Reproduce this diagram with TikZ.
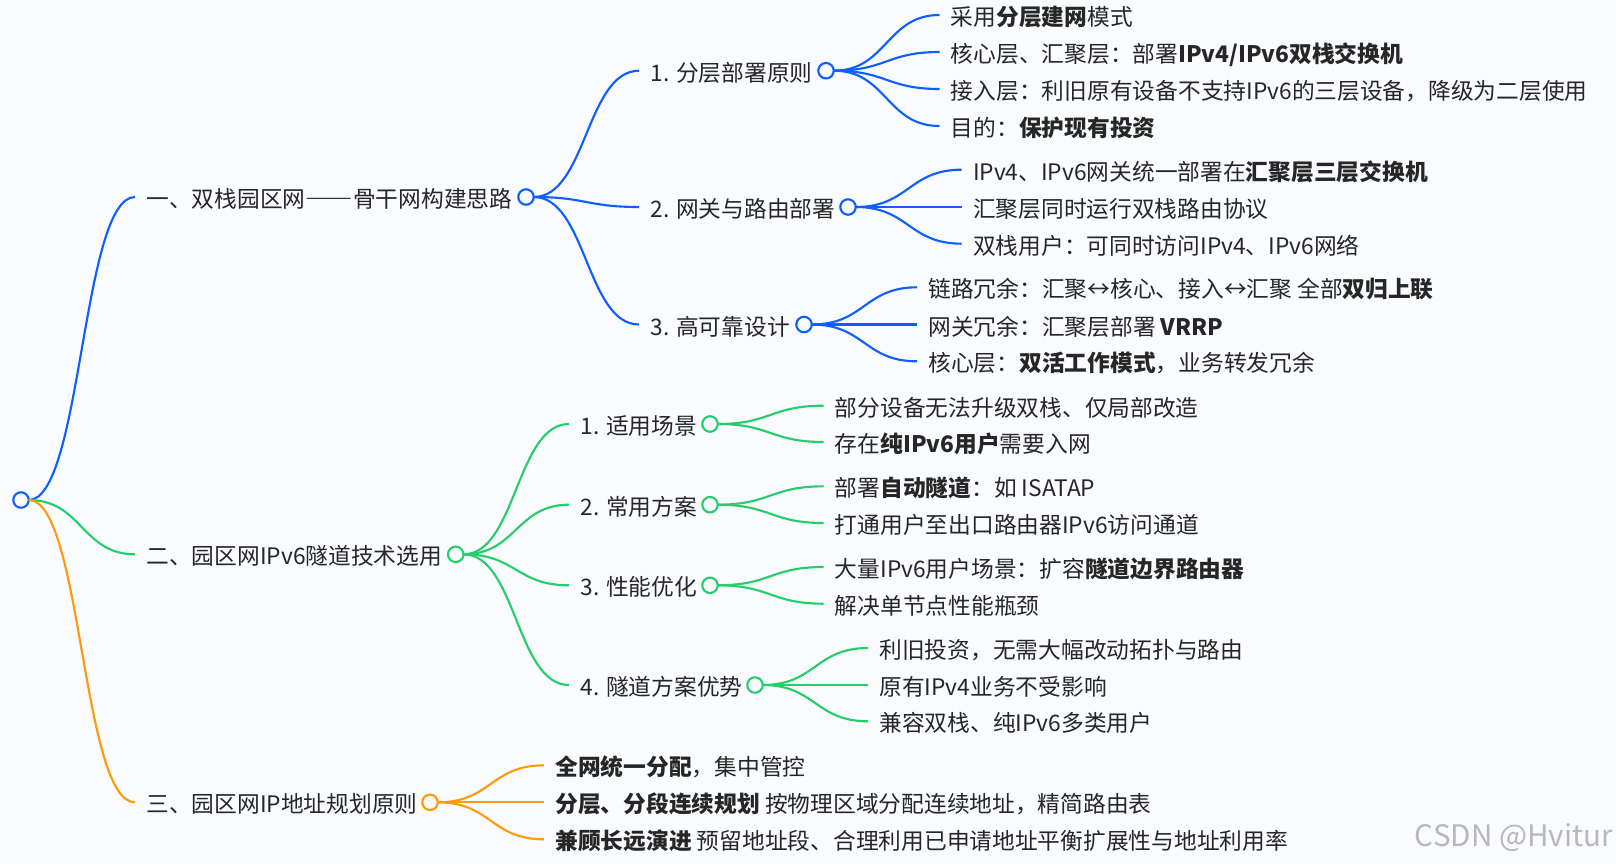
\documentclass[tikz,border=0pt]{standalone}
\usepackage{fontspec}
\setmainfont{Noto Sans CJK SC}
\usepackage{graphicx}
\usepackage{tikz}
\usetikzlibrary{calc}

\definecolor{bgcol}{HTML}{F9FBFE}
\definecolor{txtcol}{HTML}{262626}
\definecolor{bluecol}{HTML}{0F5FFF}
\definecolor{greencol}{HTML}{25CD6B}
\definecolor{orangecol}{HTML}{FF9A0A}

\newcommand{\mlink}[3]{\draw[#1,line width=1.6pt] (#2.east) .. controls ($(#2.east)!.5!(#2.east -| #3.west)$) and ($(#3.west)!.5!(#3.west -| #2.east)$) .. (#3.west);}

\begin{document}
\begin{tikzpicture}[x=.75pt,y=-.75pt,
    item/.style={anchor=west,inner xsep=8.6pt,inner ysep=0pt,outer sep=0pt,text height=16.3pt,text depth=.5pt,font=\fontsize{17.05}{20}\selectfont,text=txtcol},
    ring/.style={circle,draw,fill=bgcol,line width=1.6pt,minimum size=11.6pt,inner sep=0pt,outer sep=0pt}]

  \fill[bgcol] (0,0) rectangle (1616,864);
  \useasboundingbox (0,0) rectangle (1616,864);

  % level one
  \node[ring,draw=bluecol] (root) at (21,500) {};
  \node[item] (a) at (135,197) {一、双栈园区网\scalebox{1.045}[1]{\bfseries\addfontfeature{RawFeature=+fwid}——}骨干网构建思路};
  \node[item] (b) at (135,554.3) {二、园区网IPv6隧道技术选用};
  \node[item] (c) at (135,802.3) {三、园区网IP地址规划原则};
  \node[ring,draw=bluecol] (ar) at (526,197) {};
  \node[ring,draw=greencol] (br) at (455.7,554.3) {};
  \node[ring,draw=orangecol] (cr) at (430,802.3) {};

  % blue part
  \node[item] (a1) at (639,70.7) {1. 分层部署原则};
  \node[item] (a2) at (639,207) {2. 网关与路由部署};
  \node[item] (a3) at (639,324.5) {3. 高可靠设计};
  \node[ring,draw=bluecol] (a1r) at (826,70.7) {};
  \node[ring,draw=bluecol] (a2r) at (848,207) {};
  \node[ring,draw=bluecol] (a3r) at (804,324.5) {};

  \node[item] (a11) at (939.5,15) {采用\textbf{分层建网}模式};
  \node[item] (a12) at (939.5,52) {核心层、汇聚层：部署\textbf{IPv4/IPv6双栈交换机}};
  \node[item] (a13) at (939.5,89) {接入层：利旧原有设备不支持IPv6的三层设备，降级为二层使用};
  \node[item] (a14) at (939.5,126) {目的：\textbf{保护现有投资}};

  \node[item] (a21) at (961.6,169.7) {IPv4、IPv6网关统一部署在\textbf{汇聚层三层交换机}};
  \node[item] (a22) at (961.6,207) {汇聚层同时运行双栈路由协议};
  \node[item] (a23) at (961.6,243.7) {双栈用户：可同时访问IPv4、IPv6网络};

  \node[item] (a31) at (917,287.3) {链路冗余：汇聚↔核心、接入↔汇聚 全部\textbf{双归上联}};
  \node[item] (a32) at (917,324.5) {网关冗余：汇聚层部署 \textbf{VRRP}};
  \node[item] (a33) at (917,361.3) {核心层：\textbf{双活工作模式}，业务转发冗余};

  % green part
  \node[item] (b1) at (569,424) {1. 适用场景};
  \node[item] (b2) at (569,504.7) {2. 常用方案};
  \node[item] (b3) at (569,585.3) {3. 性能优化};
  \node[item] (b4) at (569,685) {4. 隧道方案优势};
  \node[ring,draw=greencol] (b1r) at (710,424) {};
  \node[ring,draw=greencol] (b2r) at (710,504.7) {};
  \node[ring,draw=greencol] (b3r) at (710,585.3) {};
  \node[ring,draw=greencol] (b4r) at (755,685) {};

  \node[item] (b11) at (823.5,405.7) {部分设备无法升级双栈、仅局部改造};
  \node[item] (b12) at (823.5,442) {存在\textbf{纯IPv6用户}需要入网};
  \node[item] (b21) at (823.5,486.3) {部署\textbf{自动隧道}：如 ISATAP};
  \node[item] (b22) at (823.5,523) {打通用户至出口路由器IPv6访问通道};
  \node[item] (b31) at (823.5,567) {大量IPv6用户场景：扩容\textbf{隧道边界路由器}};
  \node[item] (b32) at (823.5,603.7) {解决单节点性能瓶颈};
  \node[item] (b41) at (868,648) {利旧投资，无需大幅改动拓扑与路由};
  \node[item] (b42) at (868,685) {原有IPv4业务不受影响};
  \node[item] (b43) at (868,721.3) {兼容双栈、纯IPv6多类用户};

  % orange part
  \node[item] (c1) at (544,765.3) {\textbf{全网统一分配}，集中管控};
  \node[item] (c2) at (544,802.3) {\textbf{分层、分段连续规划} 按物理区域分配连续地址，精简路由表};
  \node[item] (c3) at (544,839.3) {\textbf{兼顾长远演进} 预留地址段、合理利用已申请地址平衡扩展性与地址利用率};

  \node[anchor=east,inner sep=0pt,font=\fontsize{22.2}{24}\selectfont,text=black!28] (mark) at (1613,838) {CSDN @Hvitur};

  % links
  \mlink{bluecol}{root}{a}
  \mlink{greencol}{root}{b}
  \mlink{orangecol}{root}{c}
  \foreach \n in {a1,a2,a3} {\mlink{bluecol}{ar}{\n}}
  \foreach \n in {a11,a12,a13,a14} {\mlink{bluecol}{a1r}{\n}}
  \foreach \n in {a21,a22,a23} {\mlink{bluecol}{a2r}{\n}}
  \foreach \n in {a31,a32,a33} {\mlink{bluecol}{a3r}{\n}}
  \foreach \n in {b1,b2,b3,b4} {\mlink{greencol}{br}{\n}}
  \foreach \n in {b11,b12} {\mlink{greencol}{b1r}{\n}}
  \foreach \n in {b21,b22} {\mlink{greencol}{b2r}{\n}}
  \foreach \n in {b31,b32} {\mlink{greencol}{b3r}{\n}}
  \foreach \n in {b41,b42,b43} {\mlink{greencol}{b4r}{\n}}
  \foreach \n in {c1,c2,c3} {\mlink{orangecol}{cr}{\n}}
\end{tikzpicture}
\end{document}
